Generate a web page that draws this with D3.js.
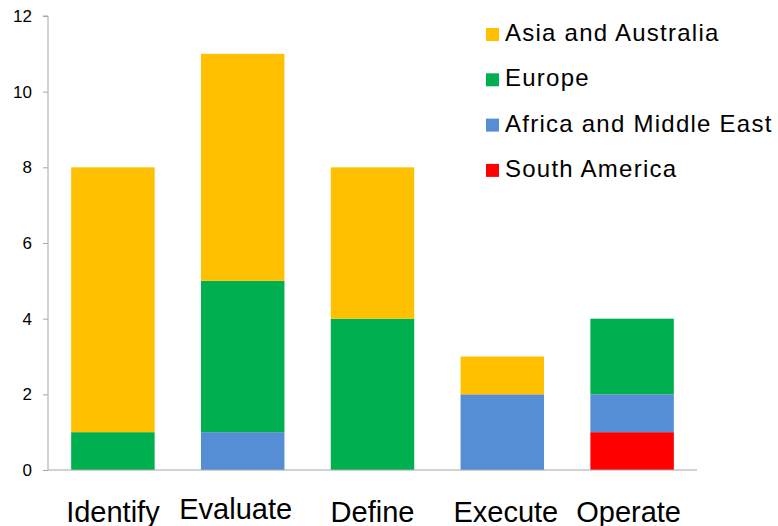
<!DOCTYPE html>
<html>
<head>
<meta charset="utf-8">
<script src="https://cdn.jsdelivr.net/npm/d3@7"></script>
<style>
  html, body { margin: 0; padding: 0; background: #fff; }
  svg { display: block; font-family: Arial, "Liberation Sans", sans-serif; }
</style>
</head>
<body>
<svg id="chart" width="778" height="526"></svg>
<script>
// Project phases along the x axis
const phases = ["Identify", "Evaluate", "Define", "Execute", "Operate"];

// Regions, bottom of the stack first
const regions = ["South America", "Africa and Middle East", "Europe", "Asia and Australia"];
const regionColors = ["#FF0000", "#558ED5", "#00B050", "#FFC000"];

// Counts per phase for each region
const southAmerica = [0, 0, 0, 0, 1];
const africaMiddleEast = [0, 1, 0, 2, 1];
const europe = [1, 4, 4, 0, 2];
const asiaAustralia = [7, 6, 4, 1, 0];

const yTicks = [0, 2, 4, 6, 8, 10, 12];

const seriesValues = [southAmerica, africaMiddleEast, europe, asiaAustralia];
const rows = phases.map((p, i) => {
  const r = { phase: p };
  regions.forEach((name, k) => { r[name] = seriesValues[k][i]; });
  return r;
});

const svg = d3.select("#chart");

const x = d3.scaleBand()
  .domain(phases)
  .range([48, 697])
  .paddingInner(0.357)
  .paddingOuter(0.1785);

const y = d3.scaleLinear().domain([0, 12]).range([470, 16]);

const color = d3.scaleOrdinal().domain(regions).range(regionColors);

const stacked = d3.stack().keys(regions)(rows);

// Bars
svg.append("g")
  .selectAll("g")
  .data(stacked)
  .join("g")
  .attr("fill", d => color(d.key))
  .selectAll("rect")
  .data(d => d.filter(s => s[1] - s[0] > 0))
  .join("rect")
  .attr("x", d => x(d.data.phase))
  .attr("width", x.bandwidth())
  .attr("y", d => y(d[1]))
  .attr("height", d => y(d[0]) - y(d[1]));

// Y axis
const yAxis = svg.append("g")
  .attr("transform", "translate(48,0)")
  .call(d3.axisLeft(y).tickValues(yTicks).tickSize(5).tickPadding(11).tickFormat(d3.format("d")));
yAxis.select(".domain").attr("stroke", "#A6A6A6").attr("d", "M-5,16H0V470");
yAxis.selectAll(".tick line").attr("stroke", "#A6A6A6");
yAxis.selectAll(".tick text")
  .attr("fill", "#000")
  .style("font-size", "17px");

// X axis; category labels are nudged slightly the way the layout spaces them
const labelShift = { Evaluate: [-7, -3], Execute: [3.5, 0], Operate: [-3.5, 0] };
const xAxis = svg.append("g")
  .attr("transform", "translate(0,470)")
  .call(d3.axisBottom(x).tickSize(0).tickPadding(0));
xAxis.select(".domain").attr("stroke", "#A6A6A6").attr("d", "M48,0H697");
xAxis.selectAll(".tick text")
  .attr("fill", "#000")
  .style("font-size", "29px")
  .attr("dy", null)
  .attr("x", d => (labelShift[d] || [0, 0])[0])
  .attr("y", d => 52 + (labelShift[d] || [0, 0])[1]);

// Legend, top entry first
const legend = svg.append("g").attr("transform", "translate(486,0)");
const legendOrder = regions.slice().reverse();
const legendItems = legend.selectAll("g")
  .data(legendOrder)
  .join("g")
  .attr("transform", (d, i) => `translate(0,${28 + i * 45.3})`);
legendItems.append("rect")
  .attr("width", 13)
  .attr("height", 13)
  .attr("fill", d => color(d));
legendItems.append("text")
  .attr("x", 19)
  .attr("y", 13)
  .attr("fill", "#000")
  .style("font-size", "24px")
  .style("letter-spacing", "1.25px")
  .text(d => d);
</script>
</body>
</html>
